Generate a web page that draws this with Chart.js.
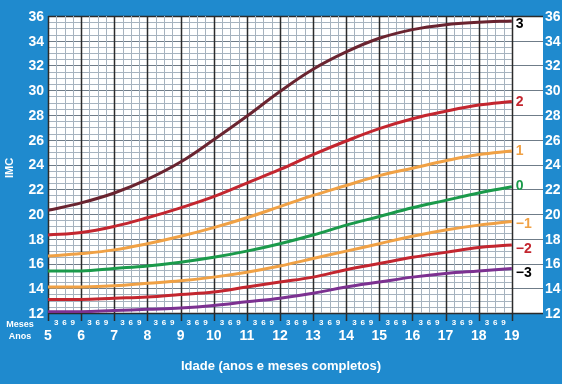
<!DOCTYPE html>
<html>
<head>
<meta charset="utf-8">
<script src="https://cdn.jsdelivr.net/npm/chart.js@4.4.1/dist/chart.umd.min.js"></script>
<style>
  html, body { margin: 0; padding: 0; background: #1f8ace; }
  #imc-canvas { display: block; }
</style>
</head>
<body>
<canvas id="imc-canvas" width="562" height="384"></canvas>
<script>
var idades = [5, 6, 7, 8, 9, 10, 11, 12, 13, 14, 15, 16, 17, 18, 19];

var sdMais3  = [20.3, 20.9, 21.7, 22.8, 24.2, 26.0, 27.9, 29.9, 31.7, 33.1, 34.2, 34.9, 35.3, 35.5, 35.6];
var sdMais2  = [18.3, 18.5, 19.0, 19.7, 20.5, 21.4, 22.5, 23.6, 24.8, 25.9, 26.9, 27.7, 28.3, 28.8, 29.1];
var sdMais1  = [16.6, 16.8, 17.1, 17.6, 18.2, 18.9, 19.7, 20.6, 21.5, 22.3, 23.1, 23.7, 24.3, 24.8, 25.1];
var sdZero   = [15.4, 15.4, 15.6, 15.8, 16.1, 16.5, 17.0, 17.6, 18.3, 19.1, 19.8, 20.5, 21.1, 21.7, 22.2];
var sdMenos1 = [14.1, 14.1, 14.2, 14.4, 14.6, 14.9, 15.3, 15.8, 16.4, 17.0, 17.6, 18.2, 18.7, 19.1, 19.4];
var sdMenos2 = [13.1, 13.1, 13.2, 13.3, 13.5, 13.7, 14.1, 14.5, 14.9, 15.5, 16.0, 16.5, 16.9, 17.3, 17.5];
var sdMenos3 = [12.1, 12.1, 12.2, 12.3, 12.4, 12.6, 12.9, 13.2, 13.6, 14.1, 14.5, 14.9, 15.2, 15.4, 15.6];

var imcTicks = [12, 14, 16, 18, 20, 22, 24, 26, 28, 30, 32, 34, 36];
var anosTicks = ['5', '6', '7', '8', '9', '10', '11', '12', '13', '14', '15', '16', '17', '18', '19'];
var mesesTicks = ['3', '6', '9'];

var curvas = [
  { label: '3',  data: sdMais3,  cor: '#6a2430', corTexto: '#000000', dy: 3 },
  { label: '2',  data: sdMais2,  cor: '#c3262f', corTexto: '#c3262f', dy: 1 },
  { label: '1',  data: sdMais1,  cor: '#f0a145', corTexto: '#f0a145', dy: 0.5 },
  { label: '0',  data: sdZero,   cor: '#1b9a4b', corTexto: '#1b9a4b', dy: -1 },
  { label: '\u22121', data: sdMenos1, cor: '#f0a145', corTexto: '#f0a145', dy: 2.5 },
  { label: '\u22122', data: sdMenos2, cor: '#c3262f', corTexto: '#c3262f', dy: 4 },
  { label: '\u22123', data: sdMenos3, cor: '#7c3191', corTexto: '#000000', dy: 4.5 }
];

var fonte = '"Liberation Sans", Arial, sans-serif';

function pontos(valores) {
  return idades.map(function(idade, i) { return { x: idade, y: valores[i] }; });
}

// grade milimetrada desenhada pelas escalas do chart
var gradePlugin = {
  id: 'grade',
  beforeDatasetsDraw: function(chart) {
    var ctx = chart.ctx;
    var area = chart.chartArea;
    var xs = chart.scales.x;
    var ys = chart.scales.y;
    var xFim = xs.getPixelForValue(19);
    ctx.save();
    ctx.fillStyle = '#ffffff';
    ctx.fillRect(area.left, area.top, area.right - area.left, area.bottom - area.top);

    var v, y, x;
    for (v = 12; v <= 36; v += 0.5) {
      y = Math.round(ys.getPixelForValue(v)) + 0.5;
      ctx.beginPath();
      if (v % 2 === 0) {
        ctx.strokeStyle = (v === 12 || v === 36) ? '#2b2b2b' : '#6f7c88';
        ctx.lineWidth = (v === 12 || v === 36) ? 1.5 : 1;
        ctx.moveTo(area.left, y);
        ctx.lineTo(area.right, y);
      } else {
        ctx.strokeStyle = '#a6b3bf';
        ctx.lineWidth = 1;
        ctx.moveTo(area.left, y);
        ctx.lineTo(xFim, y);
      }
      ctx.stroke();
    }
    for (v = 5; v <= 19; v += 0.25) {
      x = Math.round(xs.getPixelForValue(v)) + 0.5;
      ctx.beginPath();
      if (v % 1 === 0) {
        ctx.strokeStyle = '#2b2b2b';
        ctx.lineWidth = 1.5;
        ctx.moveTo(x, area.top);
        ctx.lineTo(x, area.bottom + 8);
      } else {
        ctx.strokeStyle = '#a6b3bf';
        ctx.lineWidth = 1;
        ctx.moveTo(x, area.top);
        ctx.lineTo(x, area.bottom);
      }
      ctx.stroke();
    }
    ctx.restore();
  }
};

var textosPlugin = {
  id: 'textos',
  afterDraw: function(chart) {
    var ctx = chart.ctx;
    var area = chart.chartArea;
    var xs = chart.scales.x;
    var ys = chart.scales.y;
    ctx.save();
    ctx.fillStyle = '#ffffff';
    ctx.textBaseline = 'middle';

    ctx.font = 'bold 14px ' + fonte;
    imcTicks.forEach(function(v) {
      var y = ys.getPixelForValue(v) + 1;
      ctx.textAlign = 'right';
      ctx.fillText(String(v), area.left - 4, y);
      ctx.textAlign = 'left';
      ctx.fillText(String(v), area.right + 2, y);
    });

    ctx.textAlign = 'center';
    anosTicks.forEach(function(t) {
      ctx.font = 'bold 14px ' + fonte;
      ctx.fillText(t, xs.getPixelForValue(Number(t)), 336);
      if (Number(t) < 19) {
        ctx.font = 'bold 8px ' + fonte;
        mesesTicks.forEach(function(m) {
          ctx.fillText(m, xs.getPixelForValue(Number(t) + Number(m) / 12), 323);
        });
      }
    });

    ctx.font = 'bold 9px ' + fonte;
    ctx.fillText('Meses', 20, 325);
    ctx.fillText('Anos', 20, 337);

    ctx.font = 'bold 13px ' + fonte;
    ctx.fillText('Idade (anos e meses completos)', 281, 366);

    ctx.save();
    ctx.translate(10, 168);
    ctx.rotate(-Math.PI / 2);
    ctx.font = 'bold 11px ' + fonte;
    ctx.fillText('IMC', 0, 0);
    ctx.restore();

    ctx.textAlign = 'left';
    ctx.font = 'bold 14px ' + fonte;
    var xFim = xs.getPixelForValue(19);
    curvas.forEach(function(c) {
      ctx.fillStyle = c.corTexto;
      ctx.fillText(c.label, xFim + 4, ys.getPixelForValue(c.data[c.data.length - 1]) + c.dy);
    });
    ctx.restore();
  }
};

var chart = new Chart(document.getElementById('imc-canvas').getContext('2d'), {
  type: 'line',
  data: {
    datasets: curvas.map(function(c) {
      return {
        label: c.label,
        data: pontos(c.data),
        borderColor: c.cor,
        borderWidth: 3,
        pointRadius: 0,
        fill: false,
        tension: 0.4
      };
    })
  },
  options: {
    responsive: false,
    devicePixelRatio: 1,
    animation: false,
    layout: { padding: { left: 48, top: 16, right: 19, bottom: 71 } },
    plugins: {
      legend: { display: false },
      tooltip: { enabled: false }
    },
    scales: {
      x: { type: 'linear', min: 5, max: 19.94, display: false },
      y: { type: 'linear', min: 12, max: 36, display: false }
    }
  },
  plugins: [gradePlugin, textosPlugin]
});
</script>
</body>
</html>
